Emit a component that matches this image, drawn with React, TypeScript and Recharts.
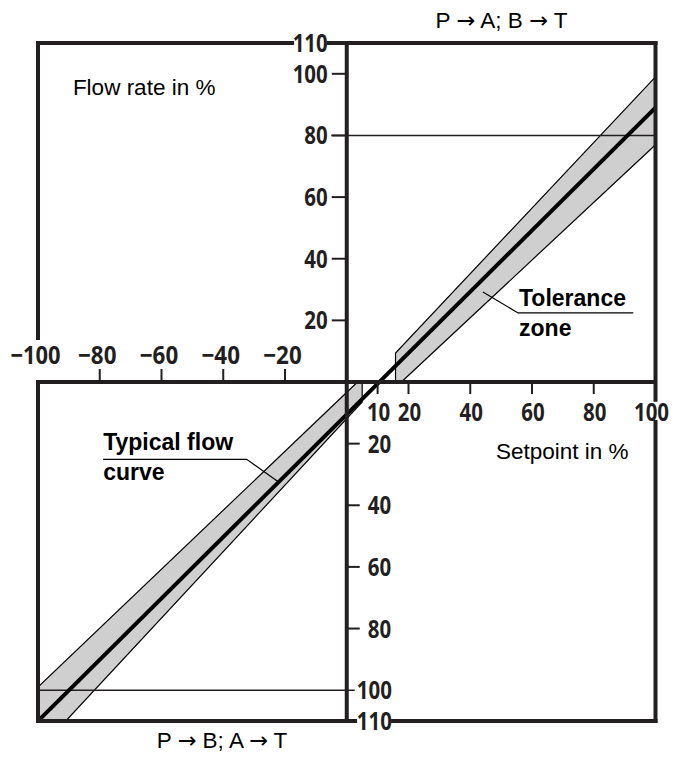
import React from 'react';
import { ComposedChart, XAxis, YAxis, Area, Line, ReferenceLine, ReferenceDot } from 'recharts';

const INK = '#231f20';
const BAND = '#cfcfcf';
const TICK_FONT = "'Open Sans', 'Roboto', sans-serif";
const TEXT_FONT = "'Liberation Sans', Arial, sans-serif";
const ARROW_FONT = "'DejaVu Sans', sans-serif";

// Typical flow curve
const flowCurve = [ { x: -100, y: -110 }, { x: 100, y: 89 } ];

// Tolerance zone, quadrant I (P -> A)
const bandQ1Fill = [ { x: 15.8, range: [0, 9.4] }, { x: 17.7, range: [0, 11.4] }, { x: 100, range: [77, 99] } ];
const bandQ1Upper = [ { x: 15.8, y: 0 }, { x: 15.8, y: 9.4 }, { x: 100, y: 99 } ];
const bandQ1Lower = [ { x: 17.7, y: 0 }, { x: 100, y: 77 } ];

// Tolerance zone, quadrant III (P -> B)
const bandQ3Fill = [ { x: -100, range: [-110, -99] }, { x: -91, range: [-110, -90.4] }, { x: 3.5, range: [-8.1, 0] }, { x: 5, range: [-6.5, 0] } ];
const bandQ3Upper = [ { x: -100, y: -99 }, { x: 3.5, y: 0 } ];
const bandQ3Lower = [ { x: -91, y: -110 }, { x: 5, y: -6.5 }, { x: 5, y: 0 } ];

// Thin marker lines
const mark80 = [ { x: -5, y: 80 }, { x: 100, y: 80 } ];
const markNeg100 = [ { x: -100, y: -100 }, { x: 2.6, y: -100 } ];

// Annotation leaders
const toleranceLeader = [ { x: 44.1, y: 29.2 }, { x: 55.5, y: 22.4 }, { x: 92.8, y: 22.4 } ];
const typicalLeader = [ { x: -78.9, y: -25.1 }, { x: -32.4, y: -25.1 }, { x: -22.2, y: -32.4 } ];

// Frame pieces (broken where a label sits on the frame)
const frameSegments = [
  [ { x: -100, y: 110 }, { x: -17.7, y: 110 } ],
  [ { x: -5.8, y: 110 }, { x: 100, y: 110 } ],
  [ { x: -100, y: -110 }, { x: 2.7, y: -110 } ],
  [ { x: 15.0, y: -110 }, { x: 100, y: -110 } ],
  [ { x: -100, y: 110 }, { x: -100, y: 14.3 } ],
  [ { x: -100, y: 0 }, { x: -100, y: -110 } ],
  [ { x: 100, y: 110 }, { x: 100, y: -5.8 } ],
  [ { x: 100, y: -13.0 }, { x: 100, y: -110 } ],
];

// Ticks
const xNegTicks = [-100, -80, -60, -40, -20];
const xNegLabels = ['−100', '−80', '−60', '−40', '−20'];
const xPosTicks = [10, 20, 40, 60, 80, 100];
const xPosLabels = ['10', '20', '40', '60', '80', '100'];
const yPosTicks = [20, 40, 60, 80, 100, 110];
const yPosLabels = ['20', '40', '60', '80', '100', '110'];
const yNegTicks = [-20, -40, -60, -80, -100, -110];
const yNegLabels = ['20', '40', '60', '80', '100', '110'];

// Text annotations
const titleTop = { x: 50.1, y: 117.5, parts: ['P ', '→', ' A; B ', '→', ' T'] };
const titleBottom = { x: -40.4, y: -116.2, parts: ['P ', '→', ' B; A ', '→', ' T'] };
const flowLabel = { x: -88.7, y: 95.4, text: 'Flow rate in %' };
const setpointLabel = { x: 48.3, y: -22.7, text: 'Setpoint in %' };
const toleranceLines = [ { x: 55.8, y: 24.7, text: 'Tolerance' }, { x: 55.8, y: 14.9, text: 'zone' } ];
const typicalLines = [ { x: -78.9, y: -22.1, text: 'Typical flow' }, { x: -78.9, y: -31.8, text: 'curve' } ];

const FS = 25;

const tickText = (x: number, y: number, label: string, anchor: string) => {
  const neg = label.startsWith('−');
  const digits = neg ? label.length - 1 : label.length;
  const len = digits * 11.7 + (neg ? 15 : 0);
  return (
    <text x={x} y={y} textAnchor={anchor} fontFamily={TICK_FONT} fontWeight={700} fontSize={FS} fill={INK}
      textLength={len} lengthAdjust="spacingAndGlyphs">{label}</text>
  );
};

const xNegShape = (label: string, mark: boolean) => (p: any) => (
  <g>
    {mark ? <line x1={p.cx} x2={p.cx} y1={p.cy - 13} y2={p.cy} stroke={INK} strokeWidth={2} /> : null}
    {tickText(p.cx - 2.5, p.cy - 18, label, 'middle')}
  </g>
);

const xPosShape = (label: string, mark: boolean) => (p: any) => (
  <g>
    {mark ? <line x1={p.cx} x2={p.cx} y1={p.cy} y2={p.cy + 12} stroke={INK} strokeWidth={2} /> : null}
    {tickText(mark ? p.cx + 1 : p.cx - 4, p.cy + 38.5, label, 'middle')}
  </g>
);

const yPosShape = (label: string, mark: boolean) => (p: any) => (
  <g>
    {mark ? <line x1={p.cx - 15} x2={p.cx} y1={p.cy} y2={p.cy} stroke={INK} strokeWidth={2} /> : null}
    {tickText(p.cx - 19, p.cy + 9, label, 'end')}
  </g>
);

const yNegShape = (label: string, mark: boolean) => (p: any) => (
  <g>
    {mark ? <line x1={p.cx} x2={p.cx + 13} y1={p.cy} y2={p.cy} stroke={INK} strokeWidth={2} /> : null}
    {tickText(mark ? p.cx + 21 : p.cx + 10, p.cy + 9, label, 'start')}
  </g>
);

const plainText = (text: string, anchor: string, bold: boolean, size: number, baseline: string) => (p: any) => (
  <text x={p.cx} y={p.cy} textAnchor={anchor} dominantBaseline={baseline} fontFamily={TEXT_FONT} fontWeight={bold ? 700 : 400} fontSize={size} fill="#000">{text}</text>
);

const arrowTitle = (parts: string[]) => (p: any) => (
  <text x={p.cx} y={p.cy} textAnchor="middle" dominantBaseline="central" fontFamily={TEXT_FONT} fontSize={22.5} fill="#000">
    {parts.map((s, i) => (s === '→' ? <tspan key={i} fontFamily={ARROW_FONT}>{s}</tspan> : <tspan key={i}>{s}</tspan>))}
  </text>
);

export default function App() {
  return (
    <div style={{ position: 'absolute', left: 0, top: 0, width: 677, height: 760, background: '#fff' }}>
      <ComposedChart width={677} height={760} margin={{ top: 43, right: 21.5, bottom: 39, left: 38 }}>
        <XAxis type="number" dataKey="x" domain={[-100, 100]} hide allowDataOverflow />
        <YAxis type="number" domain={[-110, 110]} hide allowDataOverflow />

        <Area data={bandQ1Fill} dataKey="range" type="linear" stroke="none" fill={BAND} fillOpacity={1} isAnimationActive={false} dot={false} activeDot={false} />
        <Area data={bandQ3Fill} dataKey="range" type="linear" stroke="none" fill={BAND} fillOpacity={1} isAnimationActive={false} dot={false} activeDot={false} />

        <Line data={bandQ1Upper} dataKey="y" type="linear" stroke="#000" strokeWidth={1.2} dot={false} activeDot={false} isAnimationActive={false} />
        <Line data={bandQ1Lower} dataKey="y" type="linear" stroke="#000" strokeWidth={1.2} dot={false} activeDot={false} isAnimationActive={false} />
        <Line data={bandQ3Upper} dataKey="y" type="linear" stroke="#000" strokeWidth={1.2} dot={false} activeDot={false} isAnimationActive={false} />
        <Line data={bandQ3Lower} dataKey="y" type="linear" stroke="#000" strokeWidth={1.2} dot={false} activeDot={false} isAnimationActive={false} />

        <Line data={mark80} dataKey="y" type="linear" stroke={INK} strokeWidth={1.5} dot={false} activeDot={false} isAnimationActive={false} />
        <Line data={markNeg100} dataKey="y" type="linear" stroke={INK} strokeWidth={1.5} dot={false} activeDot={false} isAnimationActive={false} />

        <Line data={toleranceLeader} dataKey="y" type="linear" stroke="#000" strokeWidth={1.2} dot={false} activeDot={false} isAnimationActive={false} />
        <Line data={typicalLeader} dataKey="y" type="linear" stroke="#000" strokeWidth={1.2} dot={false} activeDot={false} isAnimationActive={false} />

        <Line data={flowCurve} dataKey="y" type="linear" stroke="#000" strokeWidth={4} dot={false} activeDot={false} isAnimationActive={false} />

        <ReferenceLine x={0} stroke={INK} strokeWidth={4} />
        <ReferenceLine y={0} stroke={INK} strokeWidth={4} />
        {frameSegments.map((seg, i) => (
          <ReferenceLine key={'f' + i} segment={seg} stroke={INK} strokeWidth={4} strokeLinecap="square" ifOverflow="visible" />
        ))}

        {xNegTicks.map((v, i) => (
          <ReferenceDot key={'xn' + v} x={v} y={0} ifOverflow="visible" shape={xNegShape(xNegLabels[i], v !== -100)} />
        ))}
        {xPosTicks.map((v, i) => (
          <ReferenceDot key={'xp' + v} x={v} y={0} ifOverflow="visible" shape={xPosShape(xPosLabels[i], v !== 100)} />
        ))}
        {yPosTicks.map((v, i) => (
          <ReferenceDot key={'yp' + v} x={0} y={v} ifOverflow="visible" shape={yPosShape(yPosLabels[i], v !== 110)} />
        ))}
        {yNegTicks.map((v, i) => (
          <ReferenceDot key={'yn' + v} x={0} y={v} ifOverflow="visible" shape={yNegShape(yNegLabels[i], v > -100)} />
        ))}

        <ReferenceDot x={titleTop.x} y={titleTop.y} ifOverflow="visible" shape={arrowTitle(titleTop.parts)} />
        <ReferenceDot x={titleBottom.x} y={titleBottom.y} ifOverflow="visible" shape={arrowTitle(titleBottom.parts)} />
        <ReferenceDot x={flowLabel.x} y={flowLabel.y} ifOverflow="visible" shape={plainText(flowLabel.text, 'start', false, 22.5, 'central')} />
        <ReferenceDot x={setpointLabel.x} y={setpointLabel.y} ifOverflow="visible" shape={plainText(setpointLabel.text, 'start', false, 22.5, 'central')} />
        {toleranceLines.map((t) => (
          <ReferenceDot key={t.text} x={t.x} y={t.y} ifOverflow="visible" shape={plainText(t.text, 'start', true, 23, 'alphabetic')} />
        ))}
        {typicalLines.map((t) => (
          <ReferenceDot key={t.text} x={t.x} y={t.y} ifOverflow="visible" shape={plainText(t.text, 'start', true, 23, 'alphabetic')} />
        ))}
      </ComposedChart>
    </div>
  );
}
